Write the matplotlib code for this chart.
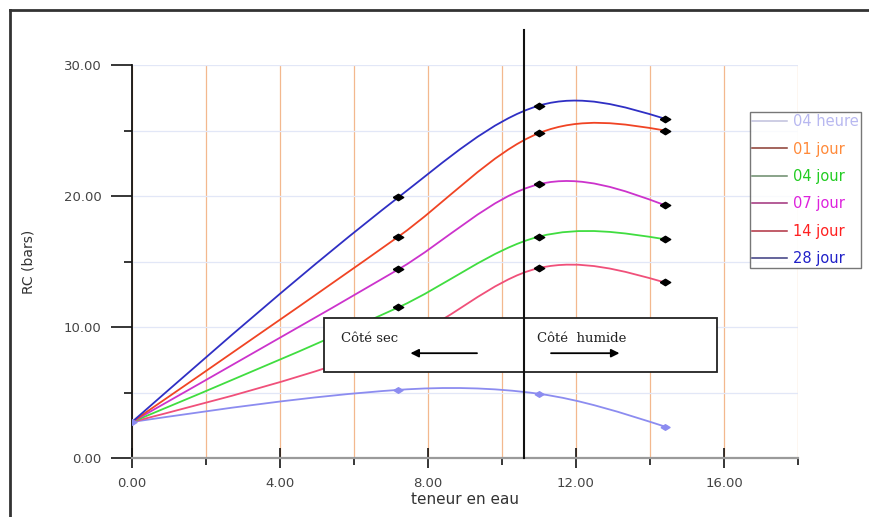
import numpy as np
import matplotlib
matplotlib.use("Agg")
import matplotlib.pyplot as plt
from matplotlib.path import Path
from matplotlib.patches import PathPatch, Rectangle
from matplotlib.lines import Line2D

# data
teneur = [0.0, 7.2, 11.0, 14.4]
rc_04h = [2.75, 5.2, 4.9, 2.4]
rc_01j = [2.75, 8.8, 14.5, 13.4]
rc_04j = [2.75, 11.5, 16.9, 16.7]
rc_07j = [2.75, 14.4, 20.9, 19.3]
rc_14j = [2.75, 16.9, 24.8, 25.0]
rc_28j = [2.75, 19.9, 26.9, 25.9]
labels = ["04 heure", "01 jour", "04 jour", "07 jour", "14 jour", "28 jour"]

curve_cols = ["#8c8cf0", "#f0507a", "#40dd40", "#cc33cc", "#f04424", "#2f2fc4"]
text_cols = ["#b8b8f0", "#ff8a3a", "#22cc22", "#dd22dd", "#ff2020", "#2020c8"]
leg_cols = ["#c0c0dc", "#8a3a30", "#6a8a6a", "#a0307a", "#b03040", "#3a3a80"]

x_min, x_max = 0, 18
y_min, y_max = 0, 30
mur = 10.6   # vertical separation line


def smooth_path(xs, ys):
    # cubic hermite through the points, drawn as bezier segments
    xs = np.asarray(xs, float)
    ys = np.asarray(ys, float)
    n = len(xs)
    m = np.zeros(n)
    for i in range(1, n - 1):
        m[i] = (ys[i + 1] - ys[i - 1]) / (xs[i + 1] - xs[i - 1])
    s0 = (ys[1] - ys[0]) / (xs[1] - xs[0])
    s1 = (ys[-1] - ys[-2]) / (xs[-1] - xs[-2])
    m[0] = (3 * s0 - m[1]) / 2
    m[-1] = (3 * s1 - m[-2]) / 2
    verts = [(xs[0], ys[0])]
    codes = [Path.MOVETO]
    for i in range(n - 1):
        h = (xs[i + 1] - xs[i]) / 3
        verts += [(xs[i] + h, ys[i] + h * m[i]),
                  (xs[i + 1] - h, ys[i + 1] - h * m[i + 1]),
                  (xs[i + 1], ys[i + 1])]
        codes += [Path.CURVE4] * 3
    return Path(verts, codes)


diamond = [(-1, 0), (0, 0.62), (1, 0), (0, -0.62), (-1, 0)]

fig = plt.figure(figsize=(8.69, 5.17), dpi=100)
ax = fig.add_axes([132 / 869, 59 / 517, 666 / 869, 393 / 517])
ax.set_xlim(x_min, x_max)
ax.set_ylim(y_min, y_max)

# grid
ax.set_xticks([0, 4, 8, 12, 16])
ax.set_xticks([2, 6, 10, 14, 18], minor=True)
ax.set_yticks([0, 10, 20, 30])
ax.set_yticks([5, 15, 25], minor=True)
ax.xaxis.set_major_formatter(matplotlib.ticker.FormatStrFormatter("%.2f"))
ax.yaxis.set_major_formatter(matplotlib.ticker.FormatStrFormatter("%.2f"))
ax.grid(axis="x", which="both", color="#f3b88e", lw=0.9, zorder=0)
ax.grid(axis="y", which="both", color="#e2e7f7", lw=0.9, zorder=0)
ax.set_axisbelow(True)

for sp in ["top", "right"]:
    ax.spines[sp].set_visible(False)
ax.spines["left"].set_color("#111111")
ax.spines["left"].set_linewidth(1.3)
ax.spines["bottom"].set_color("#9a9a9a")
ax.spines["bottom"].set_linewidth(1.6)

ax.tick_params(axis="y", which="major", length=15, width=1.1, pad=7,
               labelsize=9.5, labelcolor="#444444")
ax.tick_params(axis="y", which="minor", length=6, width=1.1)
ax.tick_params(axis="x", which="major", direction="inout", length=14, width=1.1,
               pad=7, labelsize=9.5, labelcolor="#444444")
ax.tick_params(axis="x", which="minor", length=5, width=1.1)

ax.set_xlabel("teneur en eau", fontsize=11, color="#333333", labelpad=1)
ax.set_ylabel("RC (bars)", fontsize=10, color="#333333", labelpad=20)

series = [rc_04h, rc_01j, rc_04j, rc_07j, rc_14j, rc_28j]
for k, vals in enumerate(series):
    ax.add_patch(PathPatch(smooth_path(teneur, vals), fill=False,
                           ec=curve_cols[k], lw=1.3, zorder=3))
    if k == 0:
        ax.plot(teneur, vals, ls="none", marker=diamond, ms=6.5,
                color=curve_cols[0], zorder=4)
    else:
        ax.plot(teneur[1:], vals[1:], ls="none", marker=diamond, ms=7.5,
                color="black", zorder=4)

# box "Côté sec / Côté humide"
ax.add_patch(Rectangle((5.2, 6.6), 10.6, 4.1, fc="white", ec="#222222",
                       lw=1.3, zorder=5))
ax.text(5.65, 8.85, "Côté sec", family="DejaVu Serif", fontsize=9.5,
        color="#222222", zorder=6)
ax.text(10.95, 8.85, "Côté  humide", family="DejaVu Serif", fontsize=9.5,
        color="#222222", zorder=6)
arrow = dict(arrowstyle="-|>", color="black", lw=1.3, mutation_scale=12)
ax.annotate("", xy=(7.45, 8.0), xytext=(9.4, 8.0), arrowprops=arrow, zorder=6)
ax.annotate("", xy=(13.25, 8.0), xytext=(11.25, 8.0), arrowprops=arrow, zorder=6)

ax.plot([mur, mur], [0, 32.7], color="#111111", lw=1.5, zorder=7, clip_on=False)

# legend
handles = [Line2D([], [], color=c, lw=1.1) for c in leg_cols]
leg = fig.legend(handles, labels, loc="upper left",
                 bbox_to_anchor=(750 / 869, 1 - 112 / 517), fontsize=10.5,
                 labelcolor=text_cols, frameon=True, fancybox=False,
                 borderpad=0.15, borderaxespad=0, handlelength=2.4,
                 handletextpad=0.4, labelspacing=0.85)
leg.get_frame().set_edgecolor("#555555")
leg.get_frame().set_linewidth(1.0)

# outer frame of the picture
fig.add_artist(Line2D([10 / 869, 10 / 869], [0, 1 - 10 / 517],
                      transform=fig.transFigure, color="#333333", lw=2))
fig.add_artist(Line2D([10 / 869, 1], [1 - 10 / 517, 1 - 10 / 517],
                      transform=fig.transFigure, color="#333333", lw=2))

fig.savefig("out.png", dpi=100)
